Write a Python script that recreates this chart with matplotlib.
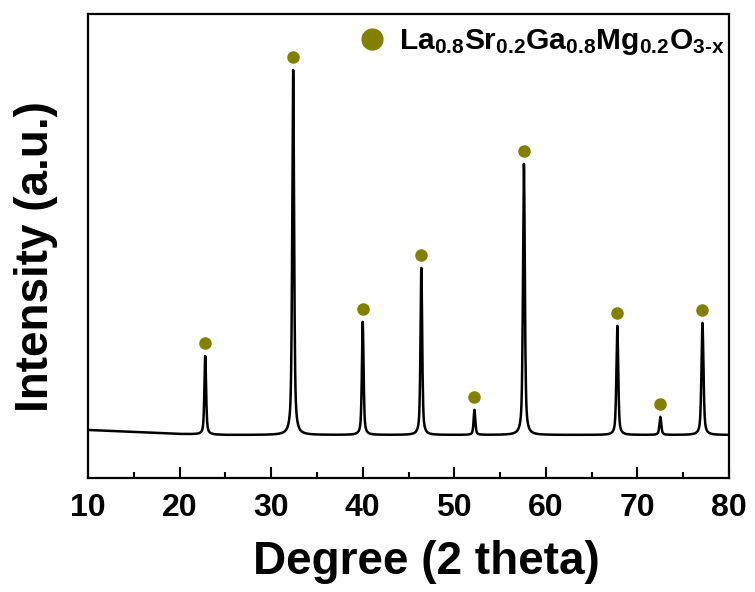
import numpy as np
import matplotlib
matplotlib.use("Agg")
import matplotlib.pyplot as plt
from matplotlib.lines import Line2D

plt.rcParams['font.family'] = ['Liberation Sans', 'DejaVu Sans']
plt.rcParams['font.weight'] = 'bold'
plt.rcParams['mathtext.fontset'] = 'custom'
plt.rcParams['mathtext.rm'] = 'Liberation Sans:bold'
plt.rcParams['mathtext.it'] = 'Liberation Sans:bold'
plt.rcParams['mathtext.bf'] = 'Liberation Sans:bold'

# LSGM reflections: 2-theta position and peak-top intensity (a.u.)
peak_pos = [22.8, 32.4, 40.0, 46.4, 52.2, 57.6, 67.8, 72.5, 77.1]
peak_top = [122, 408, 156, 210, 68, 314, 152, 61, 155]
peak_fwhm = [0.22, 0.24, 0.22, 0.22, 0.22, 0.24, 0.24, 0.24, 0.26]

# background level
bg_theta = [10, 15, 20, 25, 30, 40, 50, 60, 70, 80]
bg_level = [48, 46, 44, 43, 43, 43, 43, 43, 43, 43]

theta = np.arange(10, 80.001, 0.02)
background = np.interp(theta, bg_theta, bg_level)
pattern = background.copy()
for pos, top, w in zip(peak_pos, peak_top, peak_fwhm):
    h = top - np.interp(pos, bg_theta, bg_level)
    g = np.exp(-4 * np.log(2) * ((theta - pos) / w) ** 2)
    l = 1 / (1 + 4 * ((theta - pos) / w) ** 2)
    pattern += h * (0.4 * g + 0.6 * l)

olive = '#838000'

fig = plt.figure(figsize=(7.55, 5.92), dpi=100)
ax = fig.add_axes([0.1166, 0.1926, 0.849, 0.7838])
ax.plot(theta, pattern, color='black', lw=1.8)
ax.plot(peak_pos, np.array(peak_top) + 13, 'o', color=olive, ms=8, ls='none')

ax.set_xlim(10, 80)
ax.set_ylim(0, 464)
ax.set_xticks(range(10, 81, 10))
ax.set_xticks(range(15, 80, 10), minor=True)
ax.set_yticks([])
ax.tick_params(axis='x', which='major', direction='in', length=8, width=1.5,
               labelsize=23, pad=11)
ax.tick_params(axis='x', which='minor', direction='in', length=4.5, width=1.5)
for s in ax.spines.values():
    s.set_linewidth(1.6)

ax.set_xlabel('Degree (2 theta)', fontsize=33, fontweight='bold')
ax.set_ylabel('Intensity (a.u.)', fontsize=33, fontweight='bold')
ax.xaxis.set_label_coords(0.528, -0.133)
ax.yaxis.set_label_coords(-0.047, 0.477)

handle = Line2D([], [], marker='o', color=olive, ls='none', ms=15)
ax.legend([handle], [r'$\mathrm{La_{0.8}Sr_{0.2}Ga_{0.8}Mg_{0.2}O_{3\text{-}x}}$'],
          loc='upper right', bbox_to_anchor=(1.014, 1.0), frameon=False,
          fontsize=21.5, handletextpad=0.3, handlelength=1.2,
          borderaxespad=0.0, borderpad=0.45)

fig.savefig('out.png', dpi=100)
